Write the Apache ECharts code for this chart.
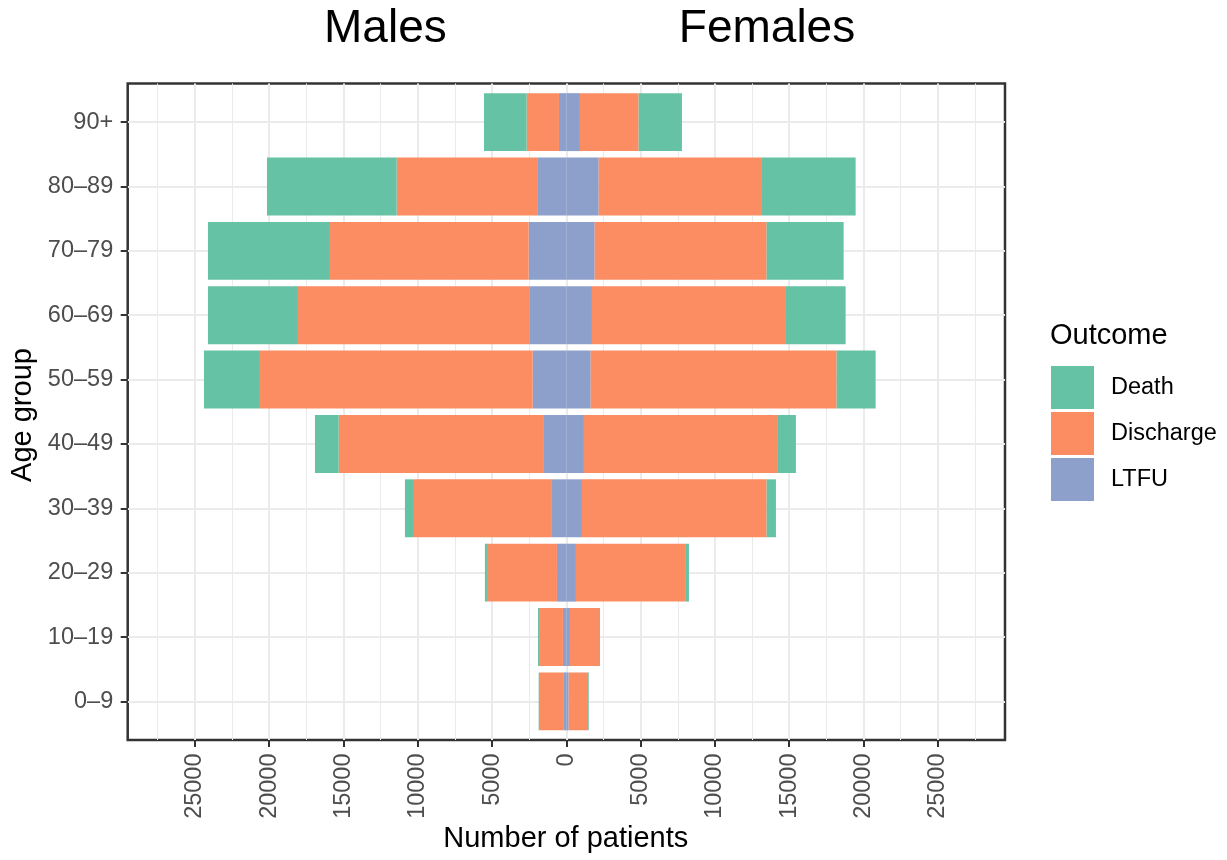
<!DOCTYPE html>
<html><head><meta charset="utf-8">
<script src="https://cdn.jsdelivr.net/npm/echarts@6/dist/echarts.min.js"></script>
<style>html,body{margin:0;padding:0;background:#fff}#c{width:1227px;height:860px}</style>
</head><body><div id="c"></div>
<script>
// Categories (bottom to top)
const ageGroups = ['0–9','10–19','20–29','30–39','40–49','50–59','60–69','70–79','80–89','90+'];
// Males
const maleLTFU      = [162, 229, 633, 969, 1507, 2268, 2450, 2537, 1911, 498];
const maleDischarge = [1682, 1615, 4711, 9287, 13816, 18351, 15612, 13371, 9509, 2174];
const maleDeath     = [20, 67, 135, 606, 1595, 3769, 6057, 8210, 8728, 2873];
// Females
const femaleLTFU      = [155, 242, 646, 1050, 1184, 1635, 1723, 1904, 2174, 915];
const femaleDischarge = [1319, 1952, 7402, 12429, 13055, 16555, 13055, 11575, 10989, 3950];
const femaleDeath     = [45, 67, 202, 626, 1211, 2624, 4017, 5182, 6305, 2914];
// Tick labels
const majorTicks = [-25000,-20000,-15000,-10000,-5000,0,5000,10000,15000,20000,25000];
const minorTicks = [-27500,-22500,-17500,-12500,-7500,-2500,2500,7500,12500,17500,22500,27500];
const outcomes = ['Death','Discharge','LTFU'];

const colors = {Death:'#66C2A5', Discharge:'#FC8D62', LTFU:'#8DA0CB'};
const FONT = '"Liberation Sans", Arial, Helvetica, sans-serif';
const xMin = -29520, xMax = 29520;

const chart = echarts.init(document.getElementById('c'), null, {renderer:'canvas'});

function barSeries(name, stack, vals, sign){
  return {
    type:'bar', name:name, stack:stack, xAxisIndex:2, yAxisIndex:1,
    barCategoryGap:'10%', barGap:'-100%',
    itemStyle:{color:colors[name]},
    emphasis:{disabled:true},
    data: vals.map(v => sign * v)
  };
}

const option = {
  backgroundColor:'#ffffff',
  animation:false,
  textStyle:{fontFamily:FONT},
  grid:[
    {left:127.7, right:222, top:83.5, bottom:120, show:true, borderColor:'#333333', borderWidth:2.5, backgroundColor:'transparent'},
    {left:127.7, right:222, top:89.94, bottom:126.44}
  ],
  xAxis:[
    {type:'value', gridIndex:0, min:xMin, max:xMax, position:'bottom',
     axisLine:{show:false, onZero:false},
     axisTick:{show:true, length:7, customValues:majorTicks, lineStyle:{color:'#333333', width:2}},
     axisLabel:{show:true, rotate:90, margin:13.5, customValues:majorTicks, color:'#4D4D4D', fontSize:23.5, fontFamily:FONT,
       formatter:function(v){return String(Math.abs(v));}},
     splitLine:{show:true, lineStyle:{color:'#EBEBEB', width:2}}},
    {type:'value', gridIndex:0, min:xMin, max:xMax, position:'top',
     axisLine:{show:false, onZero:false}, axisLabel:{show:false},
     axisTick:{show:false, customValues:minorTicks},
     splitLine:{show:true, lineStyle:{color:'#EBEBEB', width:1}}},
    {type:'value', gridIndex:1, min:xMin, max:xMax, show:false,
     axisLine:{onZero:false}, splitLine:{show:false}}
  ],
  yAxis:[
    {type:'value', gridIndex:0, min:0, max:1, show:false, axisLine:{onZero:false}, splitLine:{show:false}},
    {type:'category', gridIndex:1, data:ageGroups, boundaryGap:true, position:'left',
     axisLine:{show:false, onZero:false},
     axisTick:{show:true, alignWithLabel:true, length:7, lineStyle:{color:'#333333', width:2}},
     axisLabel:{color:'#4D4D4D', fontSize:23.5, fontFamily:FONT, margin:14.5},
     splitLine:{show:true, alignWithLabel:true, lineStyle:{color:'#EBEBEB', width:2}}}
  ],
  legend:{
    orient:'vertical', left:1046, top:361, itemWidth:43, itemHeight:43, itemGap:3,
    icon:'rect', data:outcomes, selectedMode:false,
    textStyle:{fontSize:23.5, color:'#000', fontFamily:FONT, padding:[0,0,0,12]}
  },
  graphic:[
    {type:'text', x:385.4, y:29.6, style:{text:'Males', font:'46px '+FONT, fill:'#000', textAlign:'center', align:'center', textVerticalAlign:'middle', verticalAlign:'middle'}},
    {type:'text', x:767, y:29.6, style:{text:'Females', font:'46px '+FONT, fill:'#000', textAlign:'center', align:'center', textVerticalAlign:'middle', verticalAlign:'middle'}},
    {type:'text', x:565.8, y:839.2, style:{text:'Number of patients', font:'29px '+FONT, fill:'#000', textAlign:'center', align:'center', textVerticalAlign:'middle', verticalAlign:'middle'}},
    {type:'text', x:23, y:415, rotation:Math.PI/2, style:{text:'Age group', font:'29px '+FONT, fill:'#000', textAlign:'center', align:'center', textVerticalAlign:'middle', verticalAlign:'middle'}},
    {type:'text', x:1050, y:336, style:{text:'Outcome', font:'29px '+FONT, fill:'#000', textAlign:'left', align:'left', textVerticalAlign:'middle', verticalAlign:'middle'}}
  ],
  series:[
    barSeries('LTFU','male',maleLTFU,-1),
    barSeries('Discharge','male',maleDischarge,-1),
    barSeries('Death','male',maleDeath,-1),
    barSeries('LTFU','female',femaleLTFU,1),
    barSeries('Discharge','female',femaleDischarge,1),
    barSeries('Death','female',femaleDeath,1)
  ]
};
chart.setOption(option);
</script>
</body></html>
